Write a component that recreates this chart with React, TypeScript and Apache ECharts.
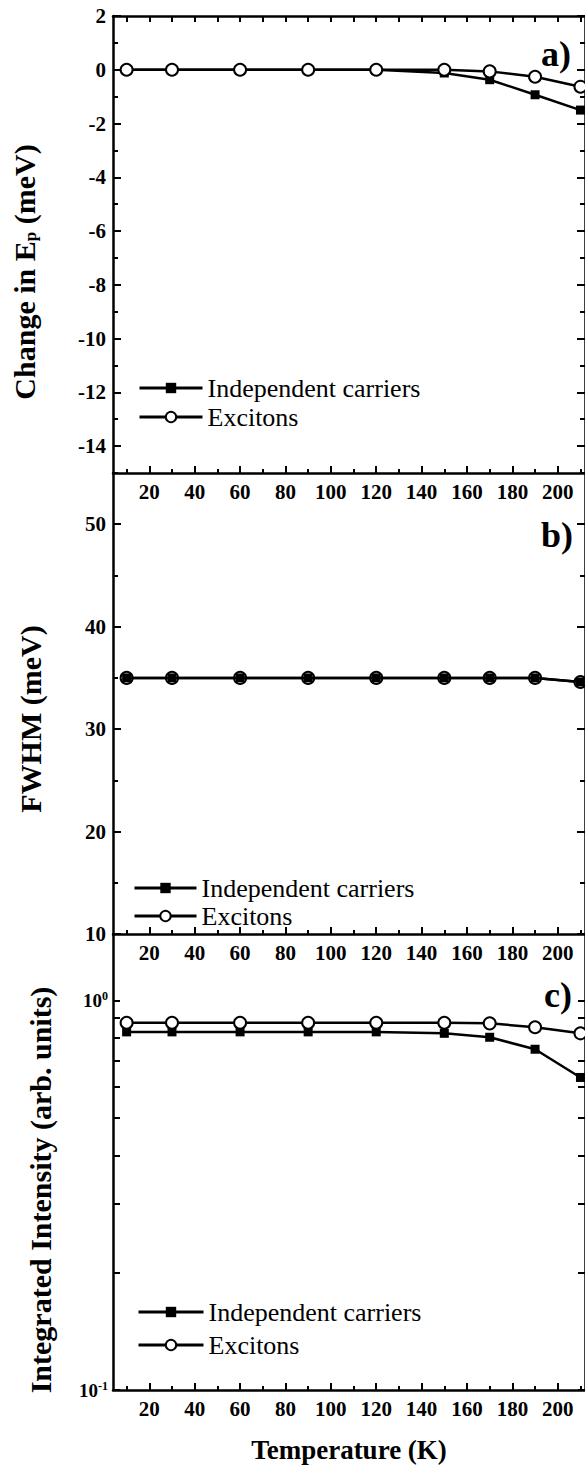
import React, { useEffect, useRef } from "react";
import * as echarts from "echarts";

const temps = [10, 30, 60, 90, 120, 150, 170, 190, 210];
const carriersEp = [0, 0, 0, 0, 0, -0.12, -0.37, -0.93, -1.5];
const excitonsEp = [0, 0, 0, 0, 0, 0, -0.06, -0.26, -0.63];
const carriersFwhm = [35, 35, 35, 35, 35, 35, 35, 35, 34.6];
const excitonsFwhm = [35, 35, 35, 35, 35, 35, 35, 35, 34.6];
const carriersInt = [0.83, 0.83, 0.83, 0.83, 0.83, 0.823, 0.804, 0.749, 0.634];
const excitonsInt = [0.876, 0.876, 0.876, 0.876, 0.876, 0.876, 0.873, 0.853, 0.823];

const xMajor = [20, 40, 60, 80, 100, 120, 140, 160, 180, 200];
const xMinor = [10, 30, 50, 70, 90, 110, 130, 150, 170, 190, 210];
const xTop = [10, 20, 30, 40, 50, 60, 70, 80, 90, 100, 110, 120, 130, 140, 150, 160, 170, 180, 190, 200, 210];
const epMajor = [-14, -12, -10, -8, -6, -4, -2, 0, 2];
const epMinor = [-15, -13, -11, -9, -7, -5, -3, -1, 1];
const fwMajor = [10, 20, 30, 40, 50];
const fwMinor = [15, 25, 35, 45, 55];
const intLabels = [0.1, 1];
const intTicks = [0.1, 0.2, 0.3, 0.4, 0.5, 0.6, 0.7, 0.8, 0.9, 1];

const names = ["Independent carriers", "Excitons"];
const panelLabels = ["a)", "b)", "c)"];
const yTitles = ["{t|Change in E}{s|p}{t| (meV)}", "FWHM (meV)", "Integrated Intensity (arb. units)"];
const xTitle = "Temperature (K)";

const FONT = "Liberation Serif";
const BLACK = "#000";

const pairs = (ys: number[]) => temps.map((t, i) => [t, ys[i]]);

export default function App() {
  const ref = useRef<HTMLDivElement>(null);
  useEffect(() => {
    if (!ref.current) return;
    const chart = echarts.init(ref.current, null, { renderer: "svg" });

    const gridL = 113;
    const gridR = -6.6;
    const grids = [
      { left: gridL, right: gridR, top: 16, height: 457 },
      { left: gridL, right: gridR, top: 473, height: 461 },
      { left: gridL, right: gridR, top: 934, height: 456 },
    ];

    const lineStyle = { color: BLACK, width: 2.5 };
    const labelStyle = { fontSize: 21, fontWeight: "bold", fontFamily: FONT, color: BLACK };

    const xMain = (g: number, extra: any = {}) => ({
      type: "value", gridIndex: g, min: 4, max: 212, position: "bottom",
      axisLine: { show: true, onZero: false, lineStyle },
      axisTick: { show: true, inside: true, length: 7, customValues: xMajor, lineStyle: { color: BLACK, width: 2 } },
      axisLabel: { show: true, customValues: xMajor, margin: 8, ...labelStyle },
      splitLine: { show: false },
      ...extra,
    });
    const xMin = (g: number) => ({
      type: "value", gridIndex: g, min: 4, max: 212, position: "bottom",
      axisLine: { show: false, onZero: false },
      axisTick: { show: true, inside: true, length: 4, customValues: xMinor, lineStyle: { color: BLACK, width: 2 } },
      axisLabel: { show: false },
      splitLine: { show: false },
    });

    const xAxis: any[] = [
      xMain(0),
      xMin(0),
      {
        type: "value", gridIndex: 0, min: 4, max: 212, position: "top",
        axisLine: { show: true, onZero: false, lineStyle },
        axisTick: { show: true, inside: true, length: 6, customValues: xTop, lineStyle: { color: BLACK, width: 2 } },
        axisLabel: { show: false }, splitLine: { show: false },
      },
      xMain(1),
      xMin(1),
      xMain(2, {
        name: xTitle, nameLocation: "middle", nameGap: 46,
        nameTextStyle: { fontSize: 27, fontWeight: "bold", fontFamily: FONT, color: BLACK },
      }),
      xMin(2),
    ];

    const yTicks = (g: number, pos: string, vals: number[], len: number, extra: any = {}, line = true) => ({
      type: "value", gridIndex: g, position: pos,
      axisLine: { show: line, onZero: false, lineStyle },
      axisTick: { show: true, inside: true, length: len, customValues: vals, lineStyle: { color: BLACK, width: 2 } },
      axisLabel: { show: false },
      splitLine: { show: false },
      ...extra,
    });

    const yAxis: any[] = [
      yTicks(0, "left", epMajor, 8, {
        min: -15, max: 2,
        axisLabel: { show: true, customValues: epMajor, margin: 7, ...labelStyle },
      }),
      yTicks(0, "left", epMinor, 5, { min: -15, max: 2 }, false),
      yTicks(0, "right", epMajor, 8, { min: -15, max: 2 }),
      yTicks(0, "right", epMinor, 5, { min: -15, max: 2 }, false),
      yTicks(1, "left", fwMajor, 8, {
        min: 10, max: 55,
        axisLabel: { show: true, customValues: fwMajor, margin: 7, ...labelStyle },
      }),
      yTicks(1, "left", fwMinor, 5, { min: 10, max: 55 }, false),
      yTicks(1, "right", fwMajor, 8, { min: 10, max: 55 }),
      yTicks(1, "right", fwMinor, 5, { min: 10, max: 55 }, false),
      {
        type: "log", logBase: 10, gridIndex: 2, position: "left", min: 0.1, max: 1.48,
        axisLine: { show: true, onZero: false, lineStyle },
        axisTick: { show: true, inside: true, length: 7, customValues: intTicks, lineStyle: { color: BLACK, width: 2 } },
        axisLabel: {
          show: true, customValues: intLabels, margin: 5,
          formatter: (v: number) => (v > 0.5 ? "{b|10}{s|0}" : "{b|10}{s|-1}"),
          rich: {
            b: { fontSize: 19, fontWeight: "bold", fontFamily: FONT, color: BLACK, lineHeight: 20 },
            s: { fontSize: 12, fontWeight: "bold", fontFamily: FONT, color: BLACK, lineHeight: 10, verticalAlign: "top" },
          },
        },
        splitLine: { show: false },
      },
      {
        type: "log", logBase: 10, gridIndex: 2, position: "right", min: 0.1, max: 1.48,
        axisLine: { show: true, onZero: false, lineStyle },
        axisTick: { show: true, inside: true, length: 7, customValues: intTicks, lineStyle: { color: BLACK, width: 2 } },
        axisLabel: { show: false }, splitLine: { show: false },
      },
    ];

    const carrierStyle = (xi: number, yi: number, data: number[], z: number) => ({
      type: "line", name: names[0], xAxisIndex: xi, yAxisIndex: yi, data: pairs(data), z,
      symbol: "rect", symbolSize: 9, showSymbol: true,
      lineStyle: { color: BLACK, width: 2.5 },
      itemStyle: { color: BLACK, borderColor: BLACK, borderWidth: 0 },
    });
    const excitonStyle = (xi: number, yi: number, data: number[], z: number) => ({
      type: "line", name: names[1], xAxisIndex: xi, yAxisIndex: yi, data: pairs(data), z,
      symbol: "circle", symbolSize: 12, showSymbol: true,
      lineStyle: { color: BLACK, width: 2.5 },
      itemStyle: { color: "#fff", borderColor: BLACK, borderWidth: 2 },
    });

    const series: any[] = [
      carrierStyle(0, 0, carriersEp, 2),
      excitonStyle(0, 0, excitonsEp, 3),
      excitonStyle(3, 4, excitonsFwhm, 2),
      carrierStyle(3, 4, carriersFwhm, 3),
      carrierStyle(5, 8, carriersInt, 2),
      excitonStyle(5, 8, excitonsInt, 3),
    ];

    const legendBase = {
      orient: "vertical", data: names, selectedMode: false,
      itemHeight: 13,
      lineStyle: { width: 3 },
      textStyle: { fontSize: 26, fontFamily: FONT, fontWeight: "normal", color: BLACK, lineHeight: 28 },
    };

    const titleRich = {
      t: { fontSize: 30, fontWeight: "bold", fontFamily: FONT, fill: BLACK, lineHeight: 30 },
      s: { fontSize: 17, fontWeight: "bold", fontFamily: FONT, fill: BLACK, lineHeight: 10, verticalAlign: "bottom" },
    };
    const yTitle = (text: string, x: number, y: number, rich = false) => ({
      type: "text", x, y, rotation: Math.PI / 2,
      style: rich
        ? { text, rich: titleRich, textAlign: "center", textVerticalAlign: "middle" }
        : { text, font: `bold 30px ${FONT}`, fill: BLACK, textAlign: "center", textVerticalAlign: "middle" },
    });
    const panelLabel = (text: string, x: number, y: number) => ({
      type: "text", x, y,
      style: { text, font: `bold 36px ${FONT}`, fill: BLACK, textAlign: "center", textVerticalAlign: "middle" },
    });

    const option: any = {
      animation: false,
      backgroundColor: "#fff",
      textStyle: { fontFamily: FONT, color: BLACK },
      grid: grids,
      xAxis,
      yAxis,
      series,
      legend: [
        { ...legendBase, left: 133, top: 369, itemGap: 1, itemWidth: 63 },
        { ...legendBase, left: 128, top: 869, itemGap: 0, itemWidth: 62 },
        { ...legendBase, left: 132, top: 1293, itemGap: 5, itemWidth: 65 },
      ],
      graphic: [
        yTitle(yTitles[0], 24, 272, true),
        yTitle(yTitles[1], 30, 719),
        yTitle(yTitles[2], 40, 1190),
        panelLabel(panelLabels[0], 556, 54),
        panelLabel(panelLabels[1], 557, 535),
        panelLabel(panelLabels[2], 558, 995),
      ],
    };
    chart.setOption(option);
    return () => chart.dispose();
  }, []);

  return (
    <div
      ref={ref}
      style={{ position: "absolute", left: 0, top: 0, width: 585, height: 1466, background: "#fff" }}
    />
  );
}
